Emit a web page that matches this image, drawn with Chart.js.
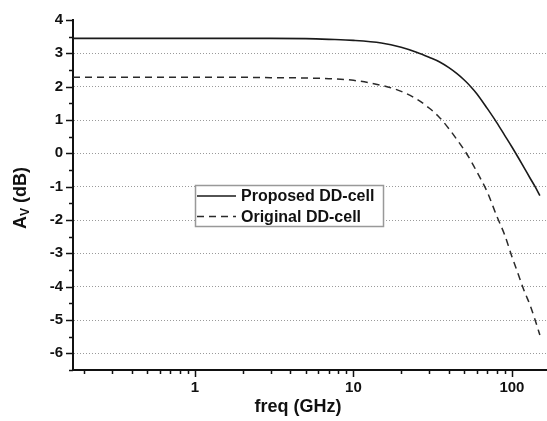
<!DOCTYPE html>
<html>
<head>
<meta charset="utf-8">
<script src="https://cdn.jsdelivr.net/npm/chart.js@4/dist/chart.umd.min.js"></script>
<style>
  html, body { margin: 0; padding: 0; background: #fff; }
  #wrap { width: 547px; height: 421px; }
</style>
</head>
<body>
<div id="wrap"><canvas id="myChart" width="547" height="421"></canvas></div>
<script>
    // values
    var freqGHz = [0.17, 0.5, 1, 2, 3, 5, 7, 10, 15, 20, 25, 30, 35, 40, 45, 50, 55, 60, 70, 80, 90, 100, 110, 120, 130, 140, 150];
    var proposedAv = [3.45, 3.45, 3.45, 3.45, 3.45, 3.44, 3.42, 3.39, 3.31, 3.18, 3.03, 2.88, 2.74, 2.57, 2.39, 2.20, 2.00, 1.79, 1.34, 0.93, 0.54, 0.19, -0.14, -0.45, -0.74, -1.0, -1.27];
    var originalAv = [2.28, 2.28, 2.28, 2.28, 2.27, 2.26, 2.24, 2.19, 2.04, 1.86, 1.63, 1.36, 1.07, 0.74, 0.41, 0.10, -0.22, -0.55, -1.17, -1.87, -2.45, -3.10, -3.65, -4.15, -4.55, -5.0, -5.45];

    var xMajor = [1, 10, 100];
    var xMinor = [0.2, 0.3, 0.4, 0.5, 0.6, 0.7, 0.8, 0.9, 2, 3, 4, 5, 6, 7, 8, 9, 20, 30, 40, 50, 60, 70, 80, 90];
    var yMajor = [-6, -5, -4, -3, -2, -1, 0, 1, 2, 3, 4];
    var yMinor = [-6.5, -5.5, -4.5, -3.5, -2.5, -1.5, -0.5, 0.5, 1.5, 2.5, 3.5];

    var seriesNames = ['Proposed DD-cell', 'Original DD-cell'];

    var font = "'Liberation Sans', Arial, sans-serif";

    function pts(ys) {
        return freqGHz.map(function(f, i) { return {x: f, y: ys[i]}; });
    }

    // ticks, axis titles and the legend box, drawn on top of the chart
    var decor = {
        id: 'decor',
        afterDraw: function(chart) {
            var ctx = chart.ctx;
            var a = chart.chartArea;
            var xs = chart.scales.x, ys = chart.scales.y;
            ctx.save();
            ctx.strokeStyle = '#111';
            ctx.lineWidth = 1.5;
            ctx.beginPath();
            yMajor.forEach(function(v) {
                var p = Math.round(ys.getPixelForValue(v)) + 0.5;
                ctx.moveTo(a.left - 7, p); ctx.lineTo(a.left, p);
            });
            yMinor.forEach(function(v) {
                var p = Math.round(ys.getPixelForValue(v)) + 0.5;
                ctx.moveTo(a.left - 4, p); ctx.lineTo(a.left, p);
            });
            xMajor.forEach(function(v) {
                var p = Math.round(xs.getPixelForValue(v)) + 0.5;
                ctx.moveTo(p, a.bottom); ctx.lineTo(p, a.bottom + 7);
            });
            xMinor.forEach(function(v) {
                var p = Math.round(xs.getPixelForValue(v)) + 0.5;
                ctx.moveTo(p, a.bottom); ctx.lineTo(p, a.bottom + 4);
            });
            ctx.stroke();

            // x title
            ctx.fillStyle = '#111';
            ctx.font = 'bold 18px ' + font;
            ctx.textAlign = 'center';
            ctx.textBaseline = 'middle';
            ctx.fillText('freq (GHz)', 298, 407);

            // y title with subscript V
            ctx.save();
            ctx.translate(21, 198);
            ctx.rotate(-Math.PI / 2);
            ctx.textAlign = 'left';
            ctx.textBaseline = 'middle';
            var big = 'bold 18px ' + font, small = 'bold 12px ' + font;
            ctx.font = big; var wA = ctx.measureText('A').width; var wR = ctx.measureText(' (dB)').width;
            ctx.font = small; var wV = ctx.measureText('V').width;
            var x0 = -(wA + wV + wR) / 2;
            ctx.font = big; ctx.fillText('A', x0, 0);
            ctx.font = small; ctx.fillText('V', x0 + wA, 5);
            ctx.font = big; ctx.fillText(' (dB)', x0 + wA + wV, 0);
            ctx.restore();

            // legend
            ctx.fillStyle = '#fff';
            ctx.fillRect(195.5, 185.5, 188, 41);
            ctx.strokeStyle = '#999';
            ctx.lineWidth = 1.5;
            ctx.strokeRect(195.5, 185.5, 188, 41);
            var rows = [196, 216.5];
            chart.data.datasets.forEach(function(ds, i) {
                ctx.strokeStyle = ds.borderColor;
                ctx.lineWidth = ds.borderWidth;
                ctx.setLineDash(ds.borderDash || []);
                ctx.beginPath();
                ctx.moveTo(197, rows[i]); ctx.lineTo(236, rows[i]);
                ctx.stroke();
                ctx.setLineDash([]);
                ctx.fillStyle = '#111';
                ctx.font = 'bold 16px ' + font;
                ctx.textAlign = 'left';
                ctx.textBaseline = 'middle';
                ctx.fillText(ds.label, 241, rows[i] + 1);
            });
            ctx.restore();
        }
    };

    const ctx = document.getElementById('myChart').getContext('2d');
    var myChart = new Chart(ctx, {
        type: 'line',
        data: {
            datasets: [{
                    label: seriesNames[0],
                    data: pts(proposedAv),
                    borderColor: '#1a1a1a',
                    borderWidth: 1.6,
                    pointRadius: 0,
                    cubicInterpolationMode: 'monotone',
                    fill: false
                },
                {
                    label: seriesNames[1],
                    data: pts(originalAv),
                    borderColor: '#2a2a2a',
                    borderWidth: 1.5,
                    borderDash: [7, 5],
                    pointRadius: 0,
                    cubicInterpolationMode: 'monotone',
                    fill: false
                }
            ]
        },
        options: {
            responsive: false,
            animation: false,
            layout: { padding: { top: 20, right: 1, left: 0, bottom: 0 } },
            plugins: {
                legend: { display: false },
                tooltip: { enabled: false }
            },
            scales: {
                x: {
                    type: 'logarithmic',
                    min: 0.17,
                    max: 164,
                    afterBuildTicks: function(s) { s.ticks = xMajor.map(function(v) { return {value: v}; }); },
                    afterFit: function(s) { s.height = 51; },
                    grid: { color: 'transparent', drawTicks: false },
                    border: { color: '#111', width: 2 },
                    ticks: {
                        color: '#111',
                        padding: 9,
                        maxRotation: 0,
                        font: { family: font, size: 15, weight: 'bold' },
                        callback: function(v) { return String(v); }
                    }
                },
                y: {
                    min: -6.5,
                    max: 4,
                    afterBuildTicks: function(s) { s.ticks = yMajor.map(function(v) { return {value: v}; }); },
                    afterFit: function(s) { s.width = 73; },
                    grid: {
                        drawTicks: false,
                        lineWidth: 1,
                        color: function(c) { return c.tick && c.tick.value < 4 ? '#9a9a9a' : 'transparent'; }
                    },
                    border: { color: '#111', width: 2, dash: [1, 2] },
                    ticks: {
                        color: '#111',
                        padding: 10,
                        font: { family: font, size: 15, weight: 'bold' },
                        callback: function(v) { return String(v); }
                    }
                }
            }
        },
        plugins: [decor]
    });
</script>
</body>
</html>
